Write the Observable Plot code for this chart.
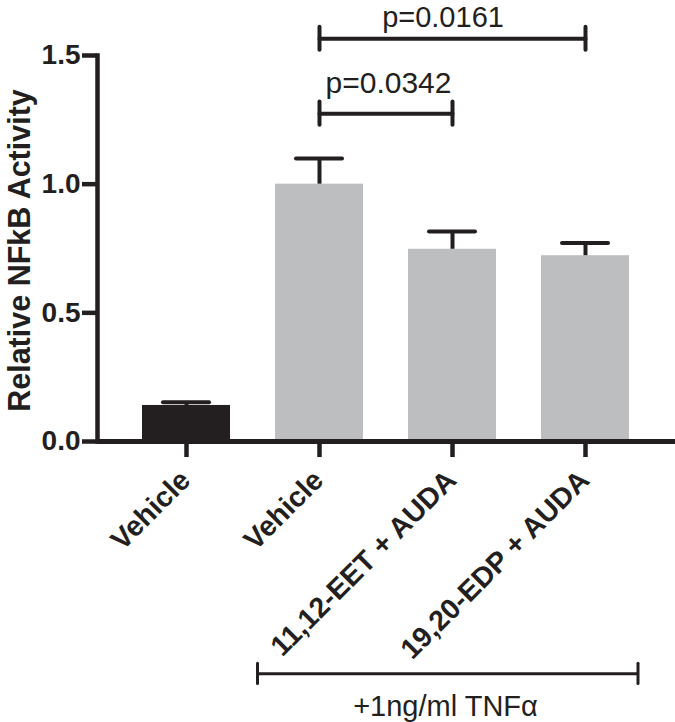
<!DOCTYPE html>
<html>
<head>
<meta charset="utf-8">
<script src="https://cdn.jsdelivr.net/npm/d3@7"></script>
<script src="https://cdn.jsdelivr.net/npm/@observablehq/plot@0.6"></script>
<style>
  html, body { margin: 0; padding: 0; background: #fff; }
  #chart { width: 675px; height: 722px; }
</style>
</head>
<body>
<div id="chart"></div>
<script>
// ---- data ----
const categories = ["veh", "veh_tnf", "eet", "edp"];
const tickLabels = ["Vehicle", "Vehicle", "11,12-EET + AUDA", "19,20-EDP + AUDA"];
const means = [0.14, 1.0, 0.747, 0.722];
const sems = [0.013, 0.1, 0.069, 0.049];
const barColors = ["#231f20", "#bcbec0", "#bcbec0", "#bcbec0"];
const yTicks = [0, 0.5, 1.0, 1.5];

const compFrom = ["veh_tnf", "veh_tnf"];
const compTo = ["eet", "edp"];
const compLevel = [1.274, 1.565];
const compLabel = ["p=0.0342", "p=0.0161"];

const groupFrom = "veh_tnf";
const groupTo = "edp";
const groupLevel = -0.903;
const groupLabel = "+1ng/ml TNF\u03b1";
const groupLabelLevel = -1.065;
const yTitle = "Relative NFkB Activity";

// ---- derived tables ----
const bars = categories.map((c, i) => ({cat: c, mean: means[i], top: means[i] + sems[i], fill: barColors[i]}));
const comps = compFrom.map((f, i) => ({from: f, to: compTo[i], level: compLevel[i], label: compLabel[i]}));
const compEnds = comps.flatMap(c => [{x: c.from, level: c.level}, {x: c.to, level: c.level}]);

const ink = "#231f20";
const endHalf = 0.045;

const chart = Plot.plot({
  width: 675,
  height: 722,
  marginLeft: 97,
  marginRight: 0,
  marginTop: 55,
  marginBottom: 281,
  style: {fontFamily: "'Liberation Sans', Arial, Helvetica, sans-serif", color: ink, background: "#fff", overflow: "visible"},
  x: {domain: categories, paddingInner: 0.337, paddingOuter: 0.333, axis: null},
  y: {domain: [0, 1.5], axis: null},
  color: {type: "identity"},
  marks: [
    Plot.barY(bars, {x: "cat", y: "mean", fill: "fill"}),
    // error bars
    Plot.ruleX(bars, {x: "cat", y1: "mean", y2: "top", stroke: ink, strokeWidth: 4}),
    Plot.tickY(bars, {x: "cat", y: "top", stroke: ink, strokeWidth: 4, strokeLinecap: "round", insetLeft: 21, insetRight: 21}),
    // axes
    Plot.axisY({ticks: yTicks, tickFormat: d3.format(".1f"), tickSize: 15, tickPadding: 2, strokeWidth: 4.5, fontSize: 28, fontWeight: "bold", fill: ink, stroke: ink, label: null}),
    Plot.axisX({tickSize: 16, strokeWidth: 4.5, stroke: ink, tickFormat: () => "", label: null}),
    Plot.frame({anchor: "left", stroke: ink, strokeWidth: 4.5}),
    Plot.ruleY([0], {stroke: ink, strokeWidth: 5}),
    // x tick labels
    Plot.text(categories, {x: d => d, frameAnchor: "bottom", text: (d, i) => tickLabels[i], rotate: -45, textAnchor: "end", lineAnchor: "middle", dx: -1, dy: 34, fontSize: 28.5, fontWeight: "bold", fill: ink}),
    // y title
    Plot.text([yTitle], {frameAnchor: "left", text: d => d, rotate: -90, lineAnchor: "bottom", textAnchor: "middle", dx: -68, dy: 2, fontSize: 30.5, fontWeight: "bold", fill: ink}),
    // significance brackets
    Plot.link(comps, {x1: "from", x2: "to", y1: "level", y2: "level", stroke: ink, strokeWidth: 4, strokeLinecap: "round"}),
    Plot.ruleX(compEnds, {x: "x", y1: d => d.level - endHalf, y2: d => d.level + endHalf, stroke: ink, strokeWidth: 4, strokeLinecap: "round"}),
    Plot.text([comps[0]], {x: "from", y: d => d.level + 0.08, text: "label", textAnchor: "start", lineAnchor: "bottom", dx: 6, fontSize: 30, fill: ink}),
    Plot.text([comps[1]], {x: "to", y: d => d.level + 0.045, text: "label", textAnchor: "middle", lineAnchor: "bottom", dx: -9 - 133.5, fontSize: 29, fill: ink}),
    // TNF group bracket
    Plot.ruleY([groupLevel], {x1: () => groupFrom, x2: () => groupTo, stroke: ink, strokeWidth: 3, insetLeft: -18, insetRight: -8}),
    Plot.ruleX([groupFrom], {x: d => d, y1: groupLevel - 0.039, y2: groupLevel + 0.039, dx: -62, stroke: ink, strokeWidth: 3, strokeLinecap: "round"}),
    Plot.ruleX([groupTo], {x: d => d, y1: groupLevel - 0.039, y2: groupLevel + 0.039, dx: 52.5, stroke: ink, strokeWidth: 3, strokeLinecap: "round"}),
    Plot.text([groupLabel], {x: () => "eet", y: () => groupLabelLevel, text: d => d, textAnchor: "middle", lineAnchor: "bottom", dx: -7, fontSize: 29, fill: ink})
  ]
});
document.getElementById("chart").appendChild(chart);
</script>
</body>
</html>
